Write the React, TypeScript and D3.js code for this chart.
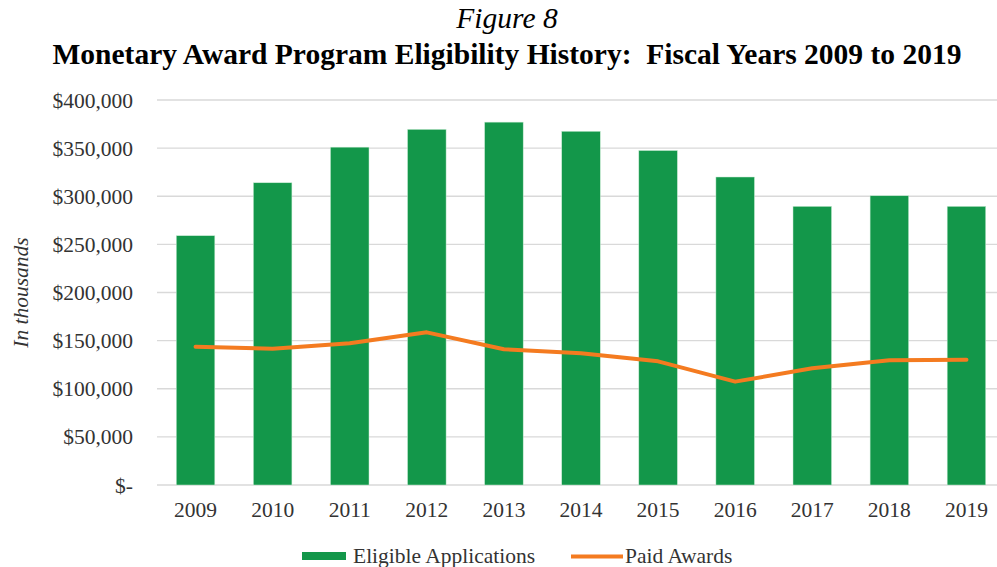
import React from 'react';
import * as d3 from 'd3';

const years = ['2009', '2010', '2011', '2012', '2013', '2014', '2015', '2016', '2017', '2018', '2019'];
const eligibleApplications = [259000, 314000, 351000, 369500, 377000, 367500, 347500, 320000, 289500, 300500, 289500];
const paidAwards = [143700, 141600, 147200, 158600, 141000, 136800, 128500, 107400, 121200, 129500, 130200];
const yTicks = [0, 50000, 100000, 150000, 200000, 250000, 300000, 350000, 400000];

const W = 997, H = 567;
const plot = { left: 157, right: 1005, top: 100, bottom: 485 };
const font = '"Liberation Serif", "Times New Roman", serif';
const green = '#13974a';
const orange = '#f47b20';
const fs = 21.5;

const fmt = (v: number) => (v === 0 ? '$-' : '$' + d3.format(',')(v));

export default function App() {
  const x = d3.scaleBand<string>().domain(years).range([plot.left, plot.right]).padding(0);
  const y = d3.scaleLinear().domain([0, 400000]).range([plot.bottom, plot.top]);
  const barW = x.bandwidth() * 0.5;
  const cx = (d: string) => (x(d) as number) + x.bandwidth() / 2;

  const line = d3.line<number>()
    .x((_, i) => cx(years[i]))
    .y(d => y(d));

  return (
    <svg width={W} height={H} style={{ position: 'absolute', left: 0, top: 0, background: '#fff' }} fontFamily={font}>
      <text x={507} y={28} textAnchor="middle" fontSize={29.5} fontStyle="italic" fill="#000">Figure 8</text>
      <text x={507} y={63.5} textAnchor="middle" fontSize={29.5} fontWeight="bold" fill="#000">
        Monetary Award Program Eligibility History:{'\u00a0\u00a0'}Fiscal Years 2009 to 2019
      </text>

      {yTicks.map(t => (
        <g key={t}>
          <line x1={plot.left} x2={W} y1={y(t)} y2={y(t)} stroke="#d9d9d9" strokeWidth={1.3} />
          <text x={133} y={y(t)} dy="0.35em" textAnchor="end" fontSize={fs} fill="#333">{fmt(t)}</text>
        </g>
      ))}

      <text transform={`translate(28,${(plot.top + plot.bottom) / 2}) rotate(-90)`} textAnchor="middle"
        fontSize={fs} fontStyle="italic" fill="#333">In thousands</text>

      {eligibleApplications.map((v, i) => (
        <rect key={years[i]} x={cx(years[i]) - barW / 2} y={y(v)} width={barW} height={y(0) - y(v)}
          fill={green} stroke="#c8ecd4" strokeWidth={0.5} />
      ))}

      <path d={line(paidAwards) as string} fill="none" stroke={orange} strokeWidth={4} strokeLinecap="round" strokeLinejoin="round" />

      {years.map(yr => (
        <text key={yr} x={cx(yr)} y={517} textAnchor="middle" fontSize={fs} fill="#333">{yr}</text>
      ))}

      <rect x={302} y={552} width={44} height={8} fill={green} />
      <text x={353} y={563} fontSize={fs} fill="#333">Eligible Applications</text>
      <line x1={571} x2={623} y1={556.5} y2={556.5} stroke={orange} strokeWidth={4} />
      <text x={625} y={563} fontSize={fs} fill="#333">Paid Awards</text>
    </svg>
  );
}
